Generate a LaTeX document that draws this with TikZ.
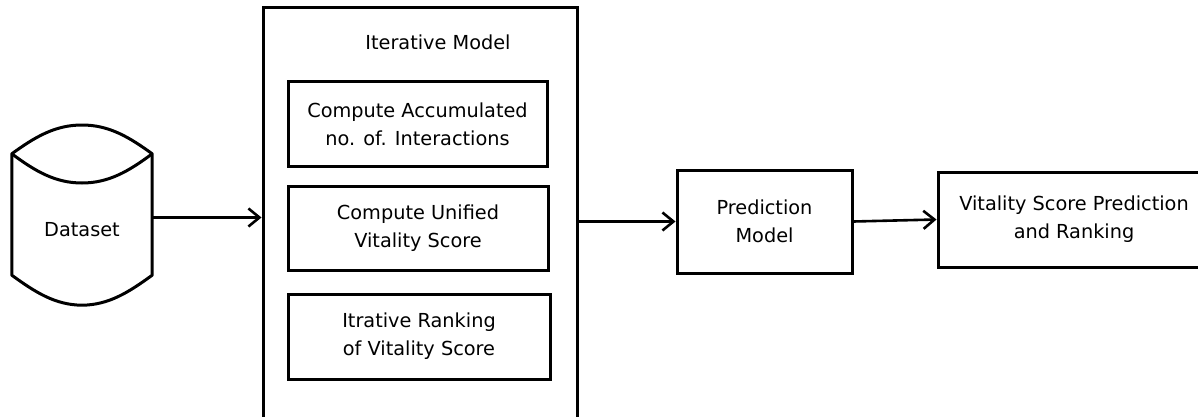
\documentclass[tikz,border=0pt]{standalone}
\usepackage{fontspec}
\setmainfont{DejaVu Sans}
\usetikzlibrary{arrows.meta}
\tikzset{
  blk/.style={draw, line width=3pt, align=center, inner sep=0pt},
  arr/.style={line width=2.6pt, -{Straight Barb[length=11pt,width=18pt,line width=2.6pt]}}
}
\begin{document}
\begin{tikzpicture}[x=1pt,y=-1pt,font=\fontsize{19.3}{28}\selectfont]
  \useasboundingbox (0,0) rectangle (1198,417);
  % dataset cylinder
  \node[inner sep=0pt, minimum width=140, minimum height=151] (db) at (82,229.5) {Dataset};
  \draw[line width=3pt, line join=round]
    (db.north west) .. controls (35,137) and (55,125) .. (82,125)
      .. controls (109,125) and (129,137) .. (db.north east)
    -- ([yshift=30pt]db.south east)
      .. controls (129,292) and (109,305) .. (db.south)
      .. controls (55,305) and (35,292) .. ([yshift=30pt]db.south west)
    -- cycle;
  \draw[line width=3pt] (db.north west) .. controls (35,171) and (55,183) .. (82,183)
      .. controls (109,183) and (129,171) .. (db.north east);
  % iterative model
  \node[blk, minimum width=314, minimum height=430] (iter) at (420,223) {};
  \node (ititle) at (438,42) {Iterative Model};
  \node[blk, minimum width=259, minimum height=84] (acc) at (417.5,124)
    {Compute Accumulated\\no. of. Interactions};
  \node[blk, minimum width=260, minimum height=84] (uni) at (418,228)
    {Compute Unified\\Vitality Score};
  \node[blk, minimum width=262, minimum height=85] (rank) at (419,336.5)
    {Itrative Ranking\\of Vitality Score};
  % right side
  \node[blk, minimum width=175, minimum height=103] (pred) at (764.5,221.5)
    {Prediction\\Model};
  \node[blk, minimum width=272, minimum height=95] (out) at (1074,219.5)
    {Vitality Score Prediction\\and Ranking};
  \draw[arr] ([yshift=12pt]db.east) -- ([yshift=12pt]db.east -| iter.west);
  \draw[arr] (pred.west -| iter.east) -- (pred.west);
  \draw[arr] (pred.east) -- (out.west);
\end{tikzpicture}
\end{document}
